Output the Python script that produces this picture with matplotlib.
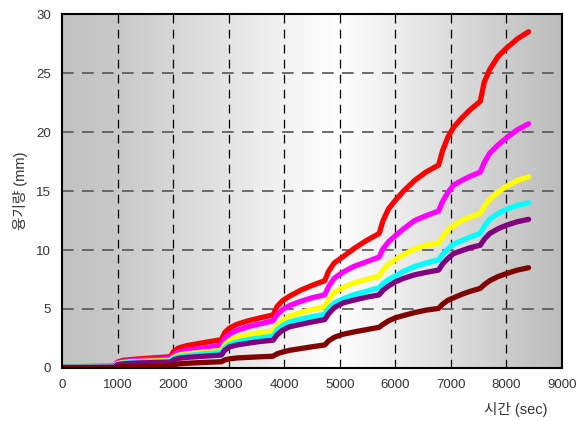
import numpy as np
import matplotlib
matplotlib.use("Agg")
import matplotlib.pyplot as plt
from matplotlib.colors import LinearSegmentedColormap

plt.rcParams['font.family'] = ['Liberation Sans', 'Noto Sans CJK KR']

# time (sec)
t = [0, 950, 1000, 1100, 1400, 1950,
     2010, 2100, 2250, 2550, 2870,
     2930, 3020, 3150, 3350, 3570, 3800,
     3870, 3970, 4100, 4300, 4500, 4730,
     4800, 4900, 5050, 5250, 5480, 5710,
     5780, 5880, 6000, 6150, 6350, 6550, 6780,
     6850, 6950, 7050, 7200, 7350, 7530,
     7600, 7700, 7850, 8000, 8200, 8400]

# uplift (mm)
red = [0.1, 0.15, 0.5, 0.65, 0.78, 0.95,
       1.4, 1.7, 1.9, 2.15, 2.4,
       3.0, 3.4, 3.7, 4.0, 4.25, 4.5,
       5.2, 5.7, 6.1, 6.6, 7.0, 7.4,
       8.2, 8.9, 9.4, 10.1, 10.8, 11.4,
       12.5, 13.5, 14.2, 15.0, 15.9, 16.6, 17.2,
       18.4, 19.6, 20.4, 21.2, 21.9, 22.6,
       24.2, 25.3, 26.4, 27.1, 27.9, 28.5]
magenta = [0.1, 0.12, 0.45, 0.55, 0.68, 0.8,
           1.1, 1.35, 1.5, 1.7, 1.95,
           2.5, 2.9, 3.2, 3.5, 3.75, 4.0,
           4.5, 4.95, 5.3, 5.65, 5.95, 6.2,
           6.9, 7.6, 8.1, 8.6, 9.0, 9.4,
           10.1, 10.7, 11.2, 11.8, 12.5, 12.9, 13.3,
           14.1, 14.9, 15.5, 15.9, 16.25, 16.6,
           17.4, 18.2, 18.9, 19.5, 20.2, 20.7]
yellow = [0.08, 0.1, 0.38, 0.47, 0.56, 0.65,
          0.9, 1.1, 1.2, 1.35, 1.5,
          2.0, 2.35, 2.6, 2.8, 3.0, 3.15,
          3.6, 4.0, 4.4, 4.7, 4.95, 5.2,
          5.8, 6.4, 6.8, 7.2, 7.5, 7.8,
          8.3, 8.8, 9.2, 9.6, 10.1, 10.4, 10.6,
          11.1, 11.7, 12.1, 12.5, 12.8, 13.1,
          13.7, 14.3, 14.9, 15.4, 15.9, 16.2]
cyan = [0.07, 0.09, 0.33, 0.42, 0.5, 0.58,
        0.8, 0.95, 1.05, 1.2, 1.3,
        1.7, 2.0, 2.2, 2.4, 2.55, 2.7,
        3.2, 3.6, 3.9, 4.15, 4.35, 4.55,
        5.05, 5.5, 5.85, 6.2, 6.5, 6.8,
        7.15, 7.5, 7.8, 8.2, 8.6, 8.9, 9.15,
        9.6, 10.1, 10.5, 10.8, 11.1, 11.4,
        12.0, 12.6, 13.1, 13.45, 13.8, 14.0]
purple = [0.05, 0.07, 0.28, 0.36, 0.43, 0.5,
          0.68, 0.82, 0.9, 1.0, 1.1,
          1.5, 1.8, 1.95, 2.1, 2.25, 2.35,
          2.8, 3.2, 3.5, 3.7, 3.9, 4.1,
          4.6, 5.1, 5.5, 5.75, 6.0, 6.2,
          6.6, 6.95, 7.3, 7.6, 7.9, 8.1, 8.3,
          8.8, 9.3, 9.7, 9.95, 10.2, 10.4,
          10.9, 11.4, 11.8, 12.1, 12.4, 12.6]
maroon = [0.0, 0.02, 0.08, 0.12, 0.15, 0.2,
          0.27, 0.35, 0.4, 0.47, 0.53,
          0.68, 0.78, 0.85, 0.9, 0.95, 1.0,
          1.2, 1.35, 1.5, 1.65, 1.8, 1.95,
          2.3, 2.6, 2.85, 3.05, 3.25, 3.45,
          3.7, 4.0, 4.25, 4.45, 4.7, 4.9, 5.05,
          5.4, 5.75, 5.95, 6.25, 6.5, 6.75,
          7.05, 7.4, 7.75, 8.0, 8.3, 8.5]

series = [(red, '#ff0000'), (magenta, '#ff00ff'), (yellow, '#ffff00'),
          (cyan, '#00ffff'), (purple, '#800080'), (maroon, '#800000')]

fig = plt.figure(figsize=(5.76, 4.21), dpi=100)
ax = fig.add_axes([0.1076, 0.1259, 0.868, 0.8408])

# gray-white-gray background
bg = LinearSegmentedColormap.from_list('bg', [(0, '#c2c2c2'), (0.1, '#c8c8c8'), (0.55, '#ffffff'), (1, '#bcbcbc')])
ax.imshow(np.linspace(0, 1, 256).reshape(1, -1), cmap=bg, aspect='auto',
          extent=[0, 9000, 0, 30], zorder=0)

for y, c in series:
    ax.plot(t, y, color=c, lw=3.8, solid_capstyle='round', solid_joinstyle='round', zorder=3)

ax.set_xlim(0, 9000)
ax.set_ylim(0, 30)
ax.set_xticks(range(0, 9001, 1000))
ax.set_yticks(range(0, 31, 5))
for x in range(1000, 9000, 1000):
    ax.axvline(x, color='black', lw=0.9, ls=(0, (7, 5)), zorder=1)
for v in range(5, 30, 5):
    ax.axhline(v, color='#555555', lw=1.2, ls=(0, (7, 5)), zorder=1)

ax.tick_params(length=0, labelsize=9.5, labelcolor='#333333', pad=8)
for s in ax.spines.values():
    s.set_linewidth(1.5)
    s.set_color('black')
    s.set_zorder(4)

ax.set_ylabel('융기량 (mm)', fontsize=10.5, color='#333333', labelpad=6)
fig.text(0.951, 0.01, '시간 (sec)', fontsize=10.5, color='#333333', ha='right', va='bottom')

fig.savefig('out.png', dpi=100)
